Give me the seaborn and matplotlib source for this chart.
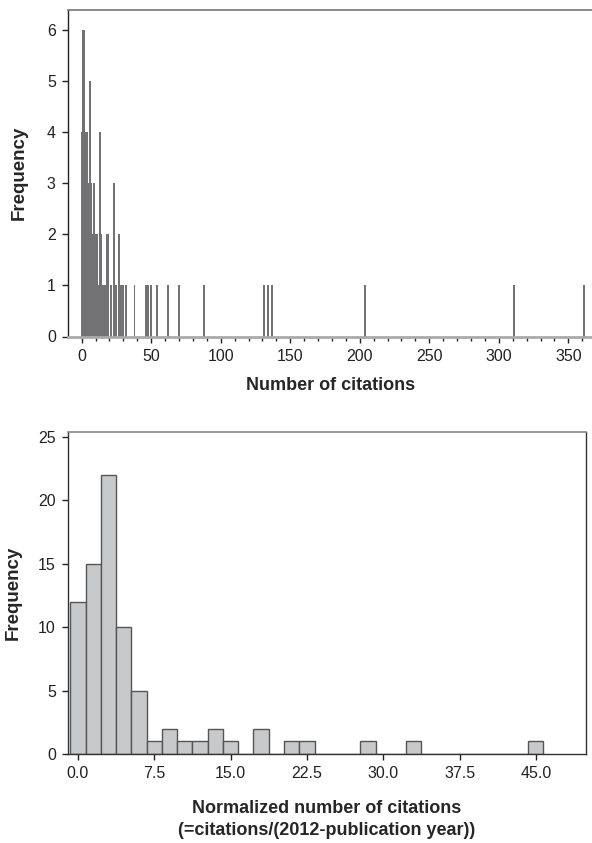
import matplotlib
matplotlib.use("Agg")
import matplotlib.pyplot as plt
import seaborn as sns
import pandas as pd
from matplotlib.ticker import MultipleLocator, FormatStrFormatter

# ---- data: top panel (number of citations -> frequency) ----
citations = [0, 1, 2, 3, 4, 5, 6, 7, 8, 9, 10, 11, 12, 13, 14, 15, 16, 17, 18, 19,
             21, 23, 24, 25, 27, 28, 30, 32, 38, 46, 48, 50, 54, 62, 70, 88,
             131, 134, 137, 204, 311, 361]
cit_freq = [4, 6, 6, 4, 4, 3, 5, 3, 2, 3, 2, 2, 1, 4, 2, 1, 1, 1, 2, 2,
            1, 3, 1, 1, 2, 1, 1, 1, 1, 1, 1, 1, 1, 1, 1, 1,
            1, 1, 1, 1, 1, 1]

# ---- data: bottom panel (normalized citations, bins of width 1.5) ----
norm_bins = [0.0, 1.5, 3.0, 4.5, 6.0, 7.5, 9.0, 10.5, 12.0, 13.5, 15.0, 16.5,
             18.0, 19.5, 21.0, 22.5, 24.0, 25.5, 27.0, 28.5, 30.0, 31.5, 33.0,
             34.5, 36.0, 37.5, 39.0, 40.5, 42.0, 43.5, 45.0]
norm_freq = [12, 15, 22, 10, 5, 1, 2, 1, 1, 2, 1, 0,
             2, 0, 1, 1, 0, 0, 0, 1, 0, 0, 1,
             0, 0, 0, 0, 0, 0, 0, 1]

top_xticks = [0, 50, 100, 150, 200, 250, 300, 350]
top_yticks = [0, 1, 2, 3, 4, 5, 6]
bot_xticks = [0.0, 7.5, 15.0, 22.5, 30.0, 37.5, 45.0]
bot_yticks = [0, 5, 10, 15, 20, 25]

sns.set_style("ticks")
plt.rcParams["font.family"] = ["Liberation Sans", "DejaVu Sans"]

W, H = 592, 843
fig = plt.figure(figsize=(W / 100, H / 100), dpi=100)

def frac(l, t, r, b):
    return [l / W, (H - b) / H, (r - l) / W, (b - t) / H]

# ---------------- top panel ----------------
ax1 = fig.add_axes(frac(68.3, 10, 592, 336.5))
df1 = pd.DataFrame({"c": citations, "f": cit_freq})
sns.barplot(data=df1, x="c", y="f", native_scale=True, width=1.4,
            color="#727274", saturation=1, linewidth=0, errorbar=None, ax=ax1)
ax1.set_xlim(-9.6, 367)
ax1.set_ylim(0, 6.4)
ax1.set_xticks(top_xticks)
ax1.set_yticks(top_yticks)
ax1.xaxis.set_minor_locator(MultipleLocator(10))
ax1.set_xlabel("Number of citations", fontsize=13, fontweight="bold", labelpad=9.5)
ax1.set_ylabel("Frequency", fontsize=13.5, fontweight="bold", labelpad=14)
ax1.spines["left"].set_color("#222222")
ax1.spines["left"].set_linewidth(1.0)
ax1.spines["top"].set_visible(True)
ax1.spines["top"].set_color("#777777")
ax1.spines["top"].set_linewidth(1.2)
ax1.spines["right"].set_visible(False)
ax1.spines["bottom"].set_color("#aaaaaa")
ax1.spines["bottom"].set_linewidth(2.0)
ax1.tick_params(axis="both", which="major", length=4, width=1, color="#222222",
                labelsize=11.5, pad=5, labelcolor="#222222")
ax1.tick_params(axis="x", which="minor", length=3, width=1, color="#222222")

# ---------------- bottom panel ----------------
ax2 = fig.add_axes(frac(68.3, 431.7, 585.7, 754))
df2 = pd.DataFrame({"n": norm_bins, "f": norm_freq})
sns.barplot(data=df2, x="n", y="f", native_scale=True, width=1.0,
            color="#c8c9cb", saturation=1, edgecolor="#555555", linewidth=1.0,
            errorbar=None, ax=ax2)
ax2.set_xlim(-0.95, 49.9)
ax2.set_ylim(0, 25.4)
ax2.set_xticks(bot_xticks)
ax2.set_yticks(bot_yticks)
ax2.xaxis.set_major_formatter(FormatStrFormatter("%.1f"))
ax2.set_xlabel("Normalized number of citations\n(=citations/(2012-publication year))",
               fontsize=13, fontweight="bold", labelpad=13, linespacing=1.4)
ax2.set_ylabel("Frequency", fontsize=13.5, fontweight="bold", labelpad=12)
for s in ["left", "right", "bottom"]:
    ax2.spines[s].set_visible(True)
    ax2.spines[s].set_color("#333333")
    ax2.spines[s].set_linewidth(1.0)
ax2.spines["top"].set_visible(True)
ax2.spines["top"].set_color("#888888")
ax2.spines["top"].set_linewidth(1.2)
ax2.tick_params(axis="both", which="major", length=4, width=1, color="#222222",
                labelsize=11.5, pad=5, labelcolor="#222222")

fig.savefig("out.png", dpi=100)
